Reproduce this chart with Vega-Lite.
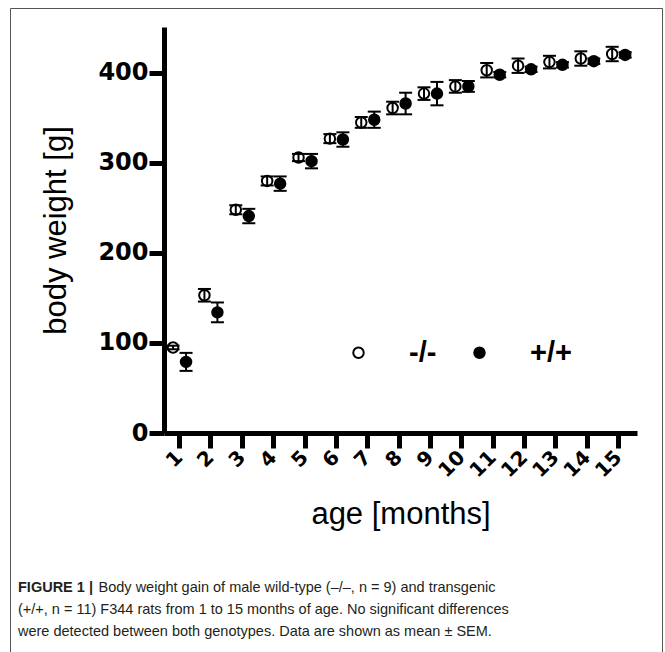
{
  "$schema": "https://vega.github.io/schema/vega-lite/v6.json",
  "width": 652,
  "height": 660,
  "autosize": {"type": "none"},
  "padding": {"left": 10, "top": 8, "right": 3, "bottom": 0},
  "background": "white",
  "config": {
    "font": "Liberation Sans",
    "view": {"stroke": "#555555", "strokeWidth": 1},
    "axis": {
      "grid": false,
      "domainColor": "black",
      "domainWidth": 5,
      "domainCap": "butt",
      "tickColor": "black",
      "tickWidth": 5,
      "tickSize": 15,
      "labelColor": "black",
      "labelFont": "DejaVu Sans",
      "labelFontWeight": "bold",
      "labelOverlap": false,
      "labelFlush": false,
      "titleColor": "black",
      "titleFont": "Liberation Sans",
      "titleFontWeight": "normal",
      "titleFontSize": 31
    }
  },
  "title": {
    "text": "FIGURE 1 |",
    "subtitle": [
      "\u2060\u00a0\u00a0\u00a0\u00a0\u00a0\u00a0\u00a0\u00a0\u00a0\u00a0\u00a0\u00a0\u00a0\u00a0\u00a0\u00a0\u00a0\u00a0\u00a0\u00a0Body weight gain of male wild-type (–/–, n = 9) and transgenic",
      "(+/+, n = 11) F344 rats from 1 to 15 months of age. No significant differences",
      "were detected between both genotypes. Data are shown as mean ± SEM."
    ],
    "orient": "bottom",
    "anchor": "start",
    "frame": "group",
    "offset": -87,
    "dx": 8,
    "font": "Liberation Sans",
    "fontSize": 14.5,
    "fontWeight": "bold",
    "color": "#231f20",
    "subtitleFont": "Liberation Sans",
    "subtitleFontSize": 14.5,
    "subtitleFontWeight": "normal",
    "subtitleColor": "#231f20",
    "subtitleLineHeight": 22,
    "subtitlePadding": -15
  },
  "data": {
    "values": [
      {"month": 1, "genotype": "-/-", "mean": 95, "lo": 93, "hi": 97},
      {"month": 2, "genotype": "-/-", "mean": 153, "lo": 146, "hi": 160},
      {"month": 3, "genotype": "-/-", "mean": 248, "lo": 243, "hi": 253},
      {"month": 4, "genotype": "-/-", "mean": 280, "lo": 275, "hi": 285},
      {"month": 5, "genotype": "-/-", "mean": 306, "lo": 302, "hi": 310},
      {"month": 6, "genotype": "-/-", "mean": 327, "lo": 322, "hi": 332},
      {"month": 7, "genotype": "-/-", "mean": 345, "lo": 339, "hi": 351},
      {"month": 8, "genotype": "-/-", "mean": 361, "lo": 354, "hi": 368},
      {"month": 9, "genotype": "-/-", "mean": 377, "lo": 370, "hi": 384},
      {"month": 10, "genotype": "-/-", "mean": 385, "lo": 378, "hi": 392},
      {"month": 11, "genotype": "-/-", "mean": 403, "lo": 395, "hi": 411},
      {"month": 12, "genotype": "-/-", "mean": 408, "lo": 400, "hi": 416},
      {"month": 13, "genotype": "-/-", "mean": 412, "lo": 405, "hi": 419},
      {"month": 14, "genotype": "-/-", "mean": 416, "lo": 408, "hi": 424},
      {"month": 15, "genotype": "-/-", "mean": 421, "lo": 413, "hi": 429},
      {"month": 1, "genotype": "+/+", "mean": 79, "lo": 69, "hi": 89},
      {"month": 2, "genotype": "+/+", "mean": 134, "lo": 123, "hi": 145},
      {"month": 3, "genotype": "+/+", "mean": 241, "lo": 233, "hi": 249},
      {"month": 4, "genotype": "+/+", "mean": 277, "lo": 269, "hi": 285},
      {"month": 5, "genotype": "+/+", "mean": 302, "lo": 294, "hi": 310},
      {"month": 6, "genotype": "+/+", "mean": 326, "lo": 318, "hi": 334},
      {"month": 7, "genotype": "+/+", "mean": 348, "lo": 339, "hi": 357},
      {"month": 8, "genotype": "+/+", "mean": 366, "lo": 354, "hi": 378},
      {"month": 9, "genotype": "+/+", "mean": 377, "lo": 364, "hi": 390},
      {"month": 10, "genotype": "+/+", "mean": 385, "lo": 379, "hi": 391},
      {"month": 11, "genotype": "+/+", "mean": 398, "lo": 395, "hi": 401},
      {"month": 12, "genotype": "+/+", "mean": 404, "lo": 401, "hi": 407},
      {"month": 13, "genotype": "+/+", "mean": 409, "lo": 406, "hi": 412},
      {"month": 14, "genotype": "+/+", "mean": 413, "lo": 410, "hi": 416},
      {"month": 15, "genotype": "+/+", "mean": 420, "lo": 417, "hi": 423}
    ]
  },
  "encoding": {
    "x": {
      "field": "month",
      "type": "quantitative",
      "scale": {"domain": [0.52, 15.6], "range": [154, 627], "nice": false, "zero": false},
      "axis": {
        "values": [1, 2, 3, 4, 5, 6, 7, 8, 9, 10, 11, 12, 13, 14, 15],
        "format": "d",
        "offset": -235,
        "labelAngle": -45,
        "labelAlign": "right",
        "labelBaseline": "middle",
        "labelFontSize": 20,
        "labelPadding": 6,
        "title": "age [months]",
        "titlePadding": 19
      }
    }
  },
  "layer": [
    {
      "transform": [{"filter": "datum.genotype === '-/-'"}],
      "mark": {"type": "rule", "color": "black", "strokeWidth": 2, "xOffset": -6},
      "encoding": {
        "y": {
          "field": "lo",
          "type": "quantitative",
          "scale": {"domain": [0, 451], "range": [425, 19], "nice": false, "zero": false},
          "axis": {
            "values": [0, 100, 200, 300, 400],
            "offset": -154,
            "labelFontSize": 24,
            "labelPadding": 1,
            "title": "body weight [g]",
            "titlePadding": 25
          }
        },
        "y2": {"field": "hi"}
      }
    },
    {
      "transform": [{"filter": "datum.genotype === '-/-'"}],
      "mark": {"type": "tick", "orient": "horizontal", "color": "black", "thickness": 2, "size": 13, "xOffset": -6, "opacity": 1},
      "encoding": {"y": {"field": "hi", "type": "quantitative"}}
    },
    {
      "transform": [{"filter": "datum.genotype === '-/-'"}],
      "mark": {"type": "tick", "orient": "horizontal", "color": "black", "thickness": 2, "size": 13, "xOffset": -6, "opacity": 1},
      "encoding": {"y": {"field": "lo", "type": "quantitative"}}
    },
    {
      "transform": [{"filter": "datum.genotype === '-/-'"}],
      "mark": {"type": "point", "shape": "circle", "filled": true, "size": 110, "stroke": "black", "strokeWidth": 2, "opacity": 1, "xOffset": -6},
      "encoding": {
        "y": {"field": "mean", "type": "quantitative"},
        "fill": {
          "field": "genotype",
          "type": "nominal",
          "scale": {"domain": ["-/-", "+/+"], "range": ["transparent", "black"]},
          "legend": {
            "orient": "none",
            "legendX": 334,
            "legendY": 330,
            "direction": "horizontal",
            "title": null,
            "padding": 0,
            "symbolType": "circle",
            "symbolSize": 110,
            "symbolStrokeWidth": 2,
            "symbolStrokeColor": "black",
            "labelFont": "Liberation Sans",
            "labelFontWeight": "bold",
            "labelFontSize": 29,
            "labelColor": "black",
            "labelOffset": 36,
            "columnPadding": 28,
            "labelLimit": 0
          }
        }
      }
    },
    {
      "transform": [{"filter": "datum.genotype === '+/+'"}],
      "mark": {"type": "rule", "color": "black", "strokeWidth": 2, "xOffset": 7},
      "encoding": {
        "y": {"field": "lo", "type": "quantitative"},
        "y2": {"field": "hi"}
      }
    },
    {
      "transform": [{"filter": "datum.genotype === '+/+'"}],
      "mark": {"type": "tick", "orient": "horizontal", "color": "black", "thickness": 2, "size": 13, "xOffset": 7, "opacity": 1},
      "encoding": {"y": {"field": "hi", "type": "quantitative"}}
    },
    {
      "transform": [{"filter": "datum.genotype === '+/+'"}],
      "mark": {"type": "tick", "orient": "horizontal", "color": "black", "thickness": 2, "size": 13, "xOffset": 7, "opacity": 1},
      "encoding": {"y": {"field": "lo", "type": "quantitative"}}
    },
    {
      "transform": [{"filter": "datum.genotype === '+/+'"}],
      "mark": {"type": "point", "shape": "circle", "filled": true, "size": 110, "stroke": "black", "strokeWidth": 2, "opacity": 1, "xOffset": 7},
      "encoding": {
        "y": {"field": "mean", "type": "quantitative"},
        "fill": {"field": "genotype", "type": "nominal"}
      }
    }
  ]
}
